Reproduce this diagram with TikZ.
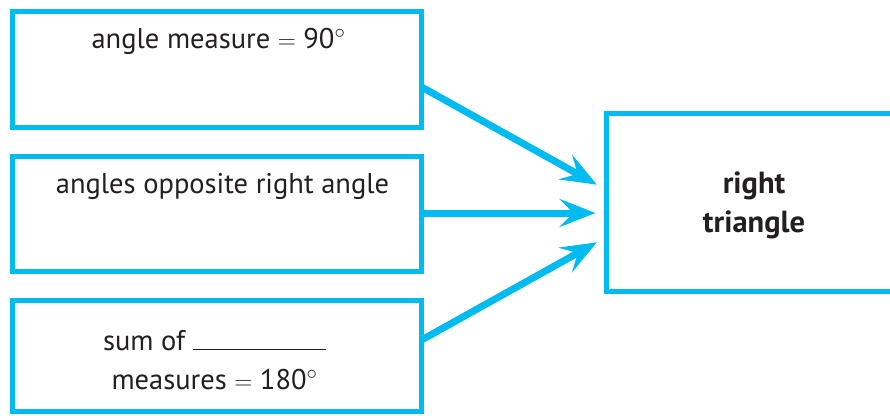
\documentclass[tikz,border=0pt]{standalone}
\usepackage{fontspec}
\setmainfont{PT Sans}
\usetikzlibrary{arrows.meta,calc}
\definecolor{boxblue}{RGB}{0,187,240}
\definecolor{ink}{RGB}{35,31,32}
\tikzset{
  boxnode/.style={draw=boxblue, line width=5pt, rectangle, inner sep=0pt, outer sep=0pt},
  label/.style={text=ink, font=\fontsize{28.5}{39}\selectfont, align=center, anchor=base, inner sep=0pt},
  conn/.style={draw=boxblue, line width=7pt, -{Stealth[length=36pt,width=28pt,inset=14pt]}, shorten >=11pt}
}
\begin{document}
\begin{tikzpicture}[x=1pt,y=-1pt]
\useasboundingbox (0,0) rectangle (890,415);
\clip (0,0) rectangle (890,415);
\node[boxnode, minimum width=409pt, minimum height=116pt] (b1) at (217,69.5) {};
\node[boxnode, minimum width=409pt, minimum height=115.5pt] (b2) at (217,214) {};
\node[boxnode, minimum width=409pt, minimum height=111.5pt] (b3) at (217,356) {};
\node[boxnode, minimum width=295pt, minimum height=178pt] (rt) at (754,202) {};
\node[label] (t1) at (218.5,48) {angle measure $=$ 90$^\circ$};
\node[label] (t2) at (222.5,193) {angles opposite right angle};
\node[label] (t3) at (214.5,389) {sum of \rule{133pt}{1pt}\\measures $=$ 180$^\circ$};
\node[label, font=\fontsize{30.5}{39}\selectfont\bfseries] (t4) at (754,232) {right\\triangle};
\draw[conn] ($(b1.east)+(0,17.5)$) -- ($(rt.west)+(0,-12)$);
\draw[conn] ($(b2.east)+(0,-1)$) -- ($(rt.west)+(0,11)$);
\draw[conn] ($(b3.east)+(0,-16)$) -- ($(rt.west)+(0,35)$);
\end{tikzpicture}
\end{document}
